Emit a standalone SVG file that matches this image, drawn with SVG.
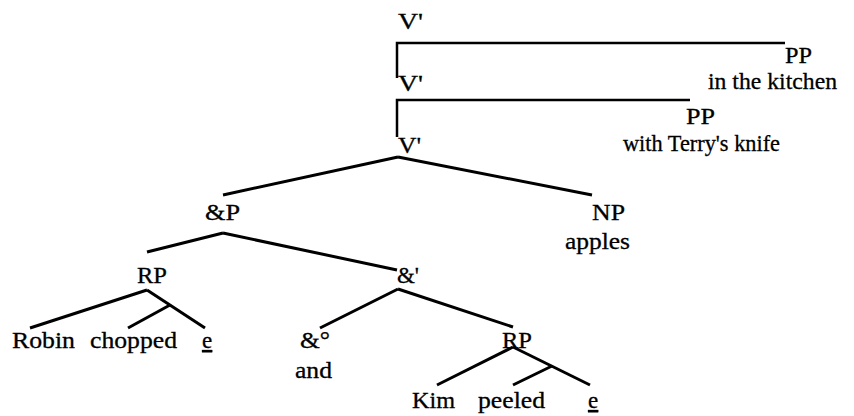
<svg xmlns="http://www.w3.org/2000/svg" width="854" height="416" viewBox="0 0 854 416">
<style>
text{font-family:"Liberation Serif","Times New Roman",serif;font-size:23px;fill:#000;stroke:#000;stroke-width:0.3}
.u{text-decoration:underline}
.e{stroke:#000;stroke-width:3;fill:none;stroke-linecap:butt}
.b{stroke:#000;stroke-width:2.5;fill:none}
</style>
<rect width="854" height="416" fill="#fff"/>
<g id="connectors">
<polyline class="b" points="397,78 397,43 785,43"/>
<polyline class="b" points="397,137 397,100 690,100"/>
<line class="e" x1="398" y1="157" x2="223" y2="195"/>
<line class="e" x1="398" y1="157" x2="592" y2="195"/>
<line class="e" x1="223" y1="233" x2="147" y2="252"/>
<line class="e" x1="223" y1="233" x2="397" y2="270"/>
<line class="e" x1="147" y1="290" x2="30" y2="328"/>
<line class="e" x1="147" y1="290" x2="205" y2="328"/>
<line class="e" x1="170" y1="305" x2="128" y2="328"/>
<line class="e" x1="398" y1="289" x2="320" y2="328"/>
<line class="e" x1="398" y1="289" x2="513" y2="327"/>
<line class="e" x1="513" y1="347" x2="437" y2="385"/>
<line class="e" x1="513" y1="347" x2="590" y2="385"/>
<line class="e" x1="552" y1="366" x2="513" y2="385"/>
</g>
<g id="n-vbar1"><text x="398" y="29" textLength="25" lengthAdjust="spacingAndGlyphs">V'</text></g>
<g id="n-pp1"><text x="785" y="63" textLength="27" lengthAdjust="spacingAndGlyphs">PP</text><text x="708" y="89" textLength="129" lengthAdjust="spacingAndGlyphs">in the kitchen</text></g>
<g id="n-vbar2"><text x="398" y="91" textLength="25" lengthAdjust="spacingAndGlyphs">V'</text></g>
<g id="n-pp2"><text x="686" y="124" textLength="29" lengthAdjust="spacingAndGlyphs">PP</text><text x="623" y="151" textLength="157" lengthAdjust="spacingAndGlyphs">with Terry's knife</text></g>
<g id="n-vbar3"><text x="398" y="153" textLength="23" lengthAdjust="spacingAndGlyphs">V'</text></g>
<g id="n-andp"><text x="205" y="220" textLength="35" lengthAdjust="spacingAndGlyphs">&amp;P</text></g>
<g id="n-np"><text x="592" y="220" textLength="33" lengthAdjust="spacingAndGlyphs">NP</text><text x="565" y="249" textLength="65" lengthAdjust="spacingAndGlyphs">apples</text></g>
<g id="n-rp1"><text x="137" y="283" textLength="30" lengthAdjust="spacingAndGlyphs">RP</text></g>
<g id="n-andbar"><text x="397" y="283" textLength="22" lengthAdjust="spacingAndGlyphs">&amp;'</text></g>
<g id="n-robin"><text x="12" y="348" textLength="63" lengthAdjust="spacingAndGlyphs">Robin</text></g>
<g id="n-chopped"><text x="90" y="348" textLength="87" lengthAdjust="spacingAndGlyphs">chopped</text></g>
<g id="n-e1"><text class="u" x="202" y="348">e</text></g>
<g id="n-and0"><text x="300" y="348" textLength="30" lengthAdjust="spacingAndGlyphs">&amp;°</text><text x="295" y="378" textLength="37" lengthAdjust="spacingAndGlyphs">and</text></g>
<g id="n-rp2"><text x="502" y="348" textLength="30" lengthAdjust="spacingAndGlyphs">RP</text></g>
<g id="n-kim"><text x="412" y="408" textLength="43" lengthAdjust="spacingAndGlyphs">Kim</text></g>
<g id="n-peeled"><text x="478" y="408" textLength="67" lengthAdjust="spacingAndGlyphs">peeled</text></g>
<g id="n-e2"><text class="u" x="588" y="408">e</text></g>
</svg>
